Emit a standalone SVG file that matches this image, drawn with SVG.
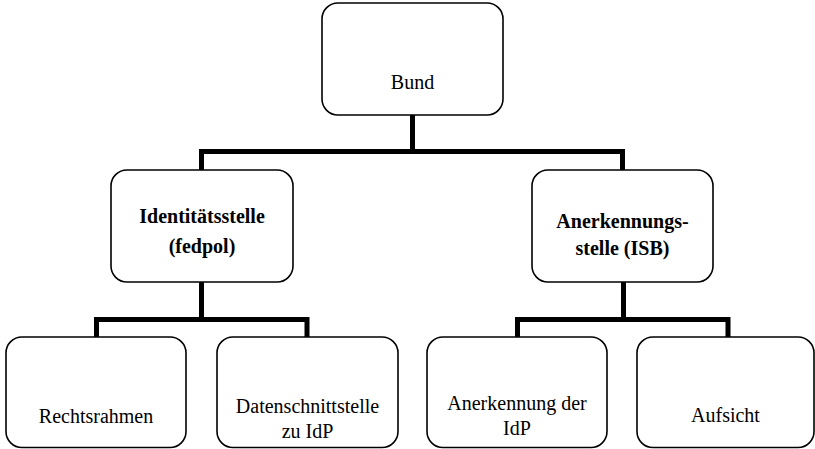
<svg xmlns="http://www.w3.org/2000/svg" width="815" height="449" viewBox="0 0 815 449">
<style>
.box{fill:#fff;stroke:#000;stroke-width:1.6}
.t{font-family:"Liberation Serif","Times New Roman",serif;font-size:20px;fill:#000;text-anchor:middle}
.b{font-weight:bold}
.c{fill:none;stroke:#000;stroke-width:5;stroke-linejoin:miter;stroke-linecap:butt}
</style>
<rect width="815" height="449" fill="#fff"/>
<g id="connectors">
<path class="c" d="M412.5,115 V151.5"/>
<path class="c" d="M201.5,170 V151.5 H622.5 V170"/>
<path class="c" d="M201.5,282 V319.5"/>
<path class="c" d="M96.5,337 V319.5 H307 V337"/>
<path class="c" d="M623.5,282 V319.5"/>
<path class="c" d="M517.5,337 V319.5 H728 V337"/>
</g>
<g id="bund">
<rect class="box" x="322" y="3" width="181" height="112" rx="16"/>
<text class="t" x="412.5" y="89">Bund</text>
</g>
<g id="identitaetsstelle">
<rect class="box" x="111" y="170" width="182" height="112" rx="16"/>
<text class="t b" x="202" y="223">Identitätsstelle</text>
<text class="t b" x="202" y="253">(fedpol)</text>
</g>
<g id="anerkennungsstelle">
<rect class="box" x="532" y="170" width="181" height="112" rx="16"/>
<text class="t b" x="622.5" y="228">Anerkennungs-</text>
<text class="t b" x="622.5" y="255">stelle (ISB)</text>
</g>
<g id="rechtsrahmen">
<rect class="box" x="6" y="337" width="180" height="110.5" rx="16"/>
<text class="t" x="96" y="423">Rechtsrahmen</text>
</g>
<g id="datenschnittstelle">
<rect class="box" x="217" y="337" width="181" height="110.5" rx="16"/>
<text class="t" x="307.5" y="413">Datenschnittstelle</text>
<text class="t" x="307.5" y="438">zu IdP</text>
</g>
<g id="anerkennung">
<rect class="box" x="427" y="337" width="180" height="110.5" rx="16"/>
<text class="t" x="517" y="410">Anerkennung der</text>
<text class="t" x="517" y="435">IdP</text>
</g>
<g id="aufsicht">
<rect class="box" x="637" y="337" width="177" height="110.5" rx="16"/>
<text class="t" x="725.5" y="422">Aufsicht</text>
</g>
</svg>
